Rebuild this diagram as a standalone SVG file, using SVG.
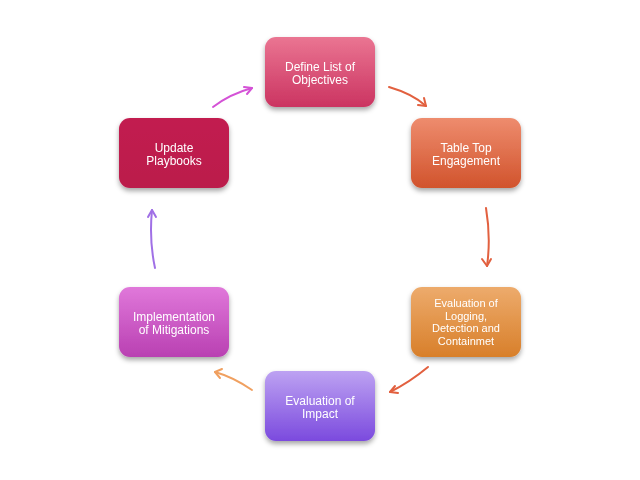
<svg xmlns="http://www.w3.org/2000/svg" width="640" height="480" viewBox="0 0 640 480">
<defs>
<linearGradient id="g1" x1="0" y1="0" x2="0" y2="1"><stop offset="0" stop-color="#ea7592"/><stop offset="1" stop-color="#cb3461"/></linearGradient>
<linearGradient id="g2" x1="0" y1="0" x2="0" y2="1"><stop offset="0" stop-color="#ee8c6e"/><stop offset="1" stop-color="#d1532c"/></linearGradient>
<linearGradient id="g3" x1="0" y1="0" x2="0" y2="1"><stop offset="0" stop-color="#edab6c"/><stop offset="1" stop-color="#d87f2a"/></linearGradient>
<linearGradient id="g4" x1="0" y1="0" x2="0" y2="1"><stop offset="0" stop-color="#bda2f2"/><stop offset="1" stop-color="#7b4ade"/></linearGradient>
<linearGradient id="g5" x1="0" y1="0" x2="0" y2="1"><stop offset="0" stop-color="#e078da"/><stop offset="1" stop-color="#b940b2"/></linearGradient>
<linearGradient id="g6" x1="0" y1="0" x2="0" y2="1"><stop offset="0" stop-color="#c21f50"/><stop offset="1" stop-color="#bb1b4b"/></linearGradient>
<filter id="sh" x="-20%" y="-20%" width="140%" height="150%"><feDropShadow dx="0" dy="3" stdDeviation="2.5" flood-color="#000" flood-opacity="0.35"/></filter>
</defs>
<style>
.n{filter:url(#sh)}
.t{font-family:"Liberation Sans",Arial,sans-serif;font-size:12px;fill:#fff;text-anchor:middle}
.s{font-size:11px}
.c{fill:none;stroke-width:2;stroke-linecap:round}
</style>
<rect width="640" height="480" fill="#fff"/>
<g id="connectors">
<path class="c" stroke="#e2603f" d="M389,87 Q413,94 426,106"/>
<path class="c" stroke="#e2603f" d="M426,106 l-8,-1 M426,106 l-2,-8"/>
<path class="c" stroke="#e2603f" d="M486,208 Q491,238 487,266"/>
<path class="c" stroke="#e2603f" d="M487,266 l-5,-7 M487,266 l4,-7"/>
<path class="c" stroke="#e2603f" d="M428,367 Q410,382 390,392"/>
<path class="c" stroke="#e2603f" d="M390,392 l5,-6 M390,392 l8,1"/>
<path class="c" stroke="#f0a060" d="M252,390 Q233,377 215,372"/>
<path class="c" stroke="#f0a060" d="M215,372 l7,-3 M215,372 l5,6"/>
<path class="c" stroke="#a070e6" d="M155,268 Q149,240 152,210"/>
<path class="c" stroke="#a070e6" d="M152,210 l-4,7 M152,210 l4,7"/>
<path class="c" stroke="#d452d6" d="M213,107 Q230,94 252,88"/>
<path class="c" stroke="#d452d6" d="M252,88 l-5,6 M252,88 l-8,-1"/>
</g>
<g id="n1" class="n"><rect x="265" y="37" width="110" height="70" rx="11" fill="url(#g1)"/><text class="t" x="320" y="71">Define List of</text><text class="t" x="320" y="84">Objectives</text></g>
<g id="n2" class="n"><rect x="411" y="118" width="110" height="70" rx="11" fill="url(#g2)"/><text class="t" x="466" y="152">Table Top</text><text class="t" x="466" y="165">Engagement</text></g>
<g id="n3" class="n"><rect x="411" y="287" width="110" height="70" rx="11" fill="url(#g3)"/><text class="t s" x="466" y="307">Evaluation of</text><text class="t s" x="466" y="319.5">Logging,</text><text class="t s" x="466" y="332">Detection and</text><text class="t s" x="466" y="344.5">Containmet</text></g>
<g id="n4" class="n"><rect x="265" y="371" width="110" height="70" rx="11" fill="url(#g4)"/><text class="t" x="320" y="405">Evaluation of</text><text class="t" x="320" y="418">Impact</text></g>
<g id="n5" class="n"><rect x="119" y="287" width="110" height="70" rx="11" fill="url(#g5)"/><text class="t" x="174" y="321">Implementation</text><text class="t" x="174" y="334">of Mitigations</text></g>
<g id="n6" class="n"><rect x="119" y="118" width="110" height="70" rx="11" fill="url(#g6)"/><text class="t" x="174" y="152">Update</text><text class="t" x="174" y="165">Playbooks</text></g>
</svg>
